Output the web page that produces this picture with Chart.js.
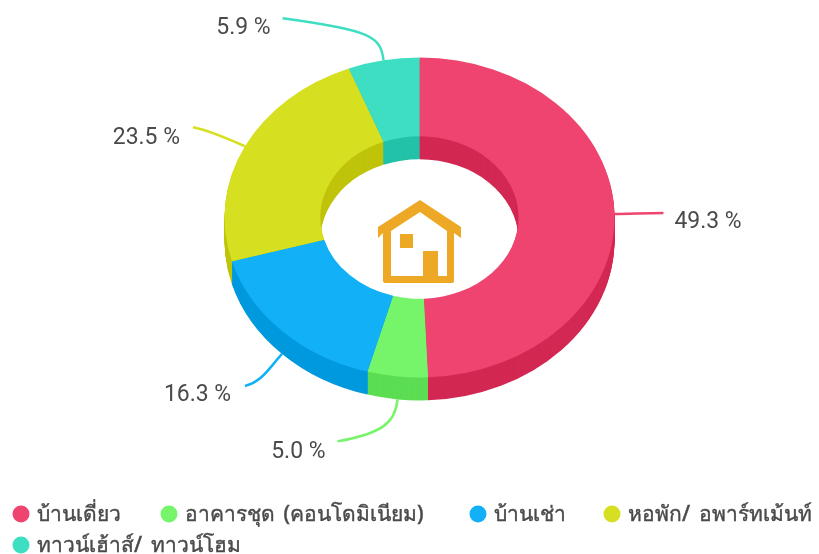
<!DOCTYPE html>
<html><head><meta charset="utf-8">
<style>html,body{margin:0;padding:0;background:#fff}canvas{display:block}</style>
<script src="https://cdn.jsdelivr.net/npm/chart.js@4"></script>
</head><body><canvas id="c" width="819" height="554"></canvas>
<script>
const categories = ['บ้านเดี่ยว','อาคารชุด (คอนโดมิเนียม)','บ้านเช่า','หอพัก/ อพาร์ทเม้นท์','ทาวน์เฮ้าส์/ ทาวน์โฮม'];
const shares = [49.3,5.0,16.3,23.5,5.9];
const faceColors = ['#EF4470','#76F56A','#12B0F7','#D6E021','#3DDEC2'];
const wallColors = ['#D32853','#5CDD53','#0099DE','#BFC40A','#22C2A8'];
const TILT = 0.82, DEPTH = 23;
const LABEL_FONT = '24px Roboto', LEGEND_FONT = '500 21px "Noto Sans", "Open Sans", sans-serif', TEXT = '#4a4a4a';
// leader-line offsets from each slice's rim anchor: control1, control2, end; then label position relative to end
const leaders = [
  [[15,0],[30,-1],[49,-1],[11,15,'left']],
  [[-2,24],[-16,34],[-60,42],[-12,17,'right']],
  [[-12,13],[-20,28],[-37,32],[-14,15,'right']],
  [[-18,-8],[-36,-16],[-52,-19],[-13,17,'right']],
  [[-3,-24],[-12,-30],[-101,-42],[-12,16,'right']]
];
const legendSpots = [[21,514],[169,514],[478,514],[612,514],[21,545]];
function tilted(ctx, arc, dy, fn){
  ctx.save();
  ctx.translate(arc.x, arc.y + dy);
  ctx.scale(1, TILT);
  ctx.translate(-arc.x, -arc.y);
  fn();
  ctx.restore();
}
const pie3d = {
  id:'pie3d',
  beforeDatasetsDraw(chart){
    const ctx = chart.ctx, arcs = chart.getDatasetMeta(0).data;
    for(let d = DEPTH; d >= 1; d--){
      arcs.forEach((arc,i)=>{
        const saved = arc.options;
        const o = Object.create(saved);
        Object.defineProperty(o,'backgroundColor',{value:wallColors[i]});
        arc.options = o;
        tilted(ctx, arc, d, ()=>arc.draw(ctx));
        arc.options = saved;
      });
    }
    const a = arcs[0];
    ctx.save();
    ctx.translate(a.x,a.y); ctx.scale(1,TILT); ctx.translate(-a.x,-a.y);
  },
  afterDatasetsDraw(chart){
    const ctx = chart.ctx, arcs = chart.getDatasetMeta(0).data;
    ctx.restore();
    // leader lines and value labels
    arcs.forEach((arc,i)=>{
      const mid = (arc.startAngle + arc.endAngle)/2;
      const sx = Math.cos(mid), sy = Math.sin(mid);
      const ax = arc.x + arc.outerRadius*sx;
      const ay = arc.y + arc.outerRadius*TILT*sy + (sy>0 ? DEPTH : 0);
      const [c1,c2,e,l] = leaders[i];
      ctx.beginPath();
      ctx.moveTo(ax,ay);
      ctx.bezierCurveTo(ax+c1[0],ay+c1[1],ax+c2[0],ay+c2[1],ax+e[0],ay+e[1]);
      ctx.strokeStyle = faceColors[i];
      ctx.lineWidth = 2.5;
      ctx.stroke();
      ctx.save();
      ctx.font = LABEL_FONT;
      ctx.fillStyle = TEXT;
      ctx.textAlign = l[2];
      ctx.textBaseline = 'alphabetic';
      ctx.translate(ax+e[0]+l[0], ay+e[1]+l[1]);
      ctx.scale(0.955,1);
      ctx.fillText(shares[i].toFixed(1)+' %', 0, 0);
      ctx.restore();
    });
    // house icon
    const a = arcs[0];
    ctx.save();
    ctx.translate(a.x-419.5, a.y-217.5);
    ctx.fillStyle = '#EDA925';
    const p = new Path2D();
    p.moveTo(420,200);p.lineTo(461,227);p.lineTo(461,238);p.lineTo(454,233);p.lineTo(454,281);
    p.quadraticCurveTo(454,283,452,283);p.lineTo(385,283);p.quadraticCurveTo(383,283,383,281);
    p.lineTo(383,233);p.lineTo(378,238);p.lineTo(378,227);p.closePath();
    p.moveTo(420,212);p.lineTo(391,231);p.lineTo(391,276);p.lineTo(423,276);p.lineTo(423,251);p.lineTo(438,251);p.lineTo(438,276);p.lineTo(447,276);p.lineTo(447,231);p.closePath();
    ctx.fill(p,'evenodd');
    ctx.fillRect(400,234,13,14);
    ctx.restore();
    // legend
    ctx.font = LEGEND_FONT;
    ctx.wordSpacing = '3px';
    ctx.textAlign='left';ctx.textBaseline='middle';
    ctx.lineWidth = 0.4;
    categories.forEach((name,i)=>{
      const [x,y] = legendSpots[i];
      ctx.beginPath();ctx.arc(x,y,8.5,0,Math.PI*2);ctx.fillStyle=faceColors[i];ctx.fill();
      ctx.fillStyle=TEXT;ctx.strokeStyle=TEXT;
      ctx.fillText(name,x+16,y+1);
      ctx.strokeText(name,x+16,y+1);
    });
    ctx.wordSpacing = '0px';
  }
};
new Chart(document.getElementById('c'),{
  type:'doughnut',
  data:{labels:categories,datasets:[{data:shares,backgroundColor:faceColors,borderWidth:0,radius:195,cutout:'50.8%'}]},
  options:{responsive:false,animation:false,events:[],
    layout:{padding:{left:20,right:0,top:0,bottom:119}},
    plugins:{legend:{display:false},tooltip:{enabled:false}}},
  plugins:[pie3d]
});
</script></body></html>
